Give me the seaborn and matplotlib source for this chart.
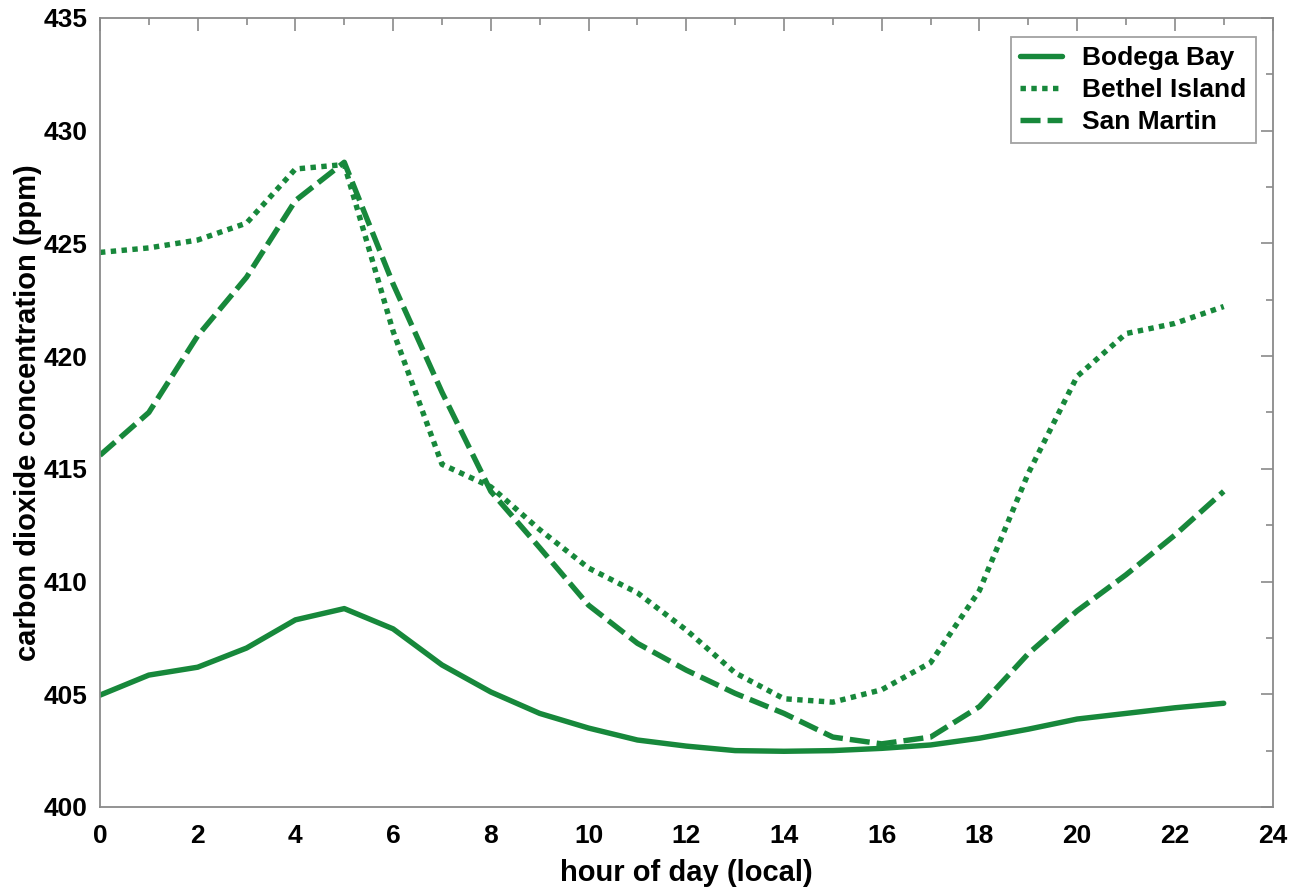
import matplotlib
matplotlib.use("Agg")
import matplotlib.pyplot as plt
import seaborn as sns
import pandas as pd
import numpy as np
from matplotlib.ticker import MultipleLocator

hours = list(range(24))
sites = ["Bodega Bay", "Bethel Island", "San Martin"]
bodega_bay = [404.96, 405.85, 406.2, 407.05, 408.3, 408.8, 407.9, 406.3, 405.1, 404.15,
              403.5, 402.97, 402.7, 402.5, 402.47, 402.5, 402.6, 402.75, 403.05, 403.45,
              403.9, 404.15, 404.4, 404.6]
bethel_island = [424.6, 424.8, 425.15, 425.9, 428.3, 428.5, 421.1, 415.2, 414.2, 412.3,
                 410.6, 409.5, 407.85, 405.95, 404.8, 404.65, 405.2, 406.4, 409.6, 414.8,
                 419.1, 421.0, 421.45, 422.2]
san_martin = [415.6, 417.5, 420.9, 423.5, 426.9, 428.6, 423.2, 418.4, 414.0, 411.5,
              408.95, 407.26, 406.07, 405.04, 404.15, 403.1, 402.8, 403.1, 404.45, 406.8,
              408.7, 410.3, 412.06, 414.0]

df = pd.DataFrame({
    "hour": hours * 3,
    "co2": bodega_bay + bethel_island + san_martin,
    "site": [s for s in sites for _ in hours],
})

sns.set_theme(style="white")
plt.rcParams["font.family"] = ["Liberation Sans", "DejaVu Sans"]
plt.rcParams["font.weight"] = "bold"
plt.rcParams["text.color"] = "black"
plt.rcParams["axes.labelcolor"] = "black"

green = "#17883b"
lw = 3.9
fig = plt.figure(figsize=(13, 8.9), dpi=100)
ax = fig.add_axes([0.0769, 0.0933, 0.902, 0.8865])

sns.lineplot(data=df, x="hour", y="co2", hue="site", style="site",
             hue_order=sites, style_order=sites,
             palette={s: green for s in sites},
             dashes={"Bodega Bay": "", "Bethel Island": (1, 1.0), "San Martin": (3.7, 1.3)},
             linewidth=lw, ax=ax, legend=True)

ax.set_xlim(0, 24)
ax.set_ylim(400, 435)
ax.xaxis.set_major_locator(MultipleLocator(2))
ax.xaxis.set_minor_locator(MultipleLocator(1))
ax.yaxis.set_major_locator(MultipleLocator(5))
ax.yaxis.set_minor_locator(MultipleLocator(2.5))

spine_col = "#8a8a8a"
for sp in ax.spines.values():
    sp.set_color(spine_col)
    sp.set_linewidth(1.3)
    sp.set_visible(True)
ax.tick_params(which="both", direction="in", top=True, right=True, color=spine_col,
               width=1.2, labelsize=19, labelcolor="black")
ax.tick_params(axis="x", which="both", pad=12)
ax.tick_params(axis="y", which="both", pad=9)
ax.tick_params(which="major", length=9)
ax.tick_params(which="minor", length=5)
for lab in ax.get_xticklabels() + ax.get_yticklabels():
    lab.set_fontweight("bold")

ax.set_xlabel("hour of day (local)", fontsize=21, fontweight="bold", labelpad=8, color="black")
ax.set_ylabel("carbon dioxide concentration (ppm)", fontsize=21, fontweight="bold",
              labelpad=1, color="black")

leg = ax.legend(loc="upper right", bbox_to_anchor=(0.9855, 0.976), borderaxespad=0,
                fontsize=19, frameon=True, fancybox=False, edgecolor=spine_col,
                handlelength=1.6, handletextpad=0.75, labelspacing=0.3,
                borderpad=0.35, title=None)
leg.get_frame().set_linewidth(1.3)
for t in leg.get_texts():
    t.set_fontweight("bold")
    t.set_color("black")
for h in leg.get_lines():
    h.set_linewidth(lw)

fig.savefig("out.png", dpi=100, facecolor="white")
